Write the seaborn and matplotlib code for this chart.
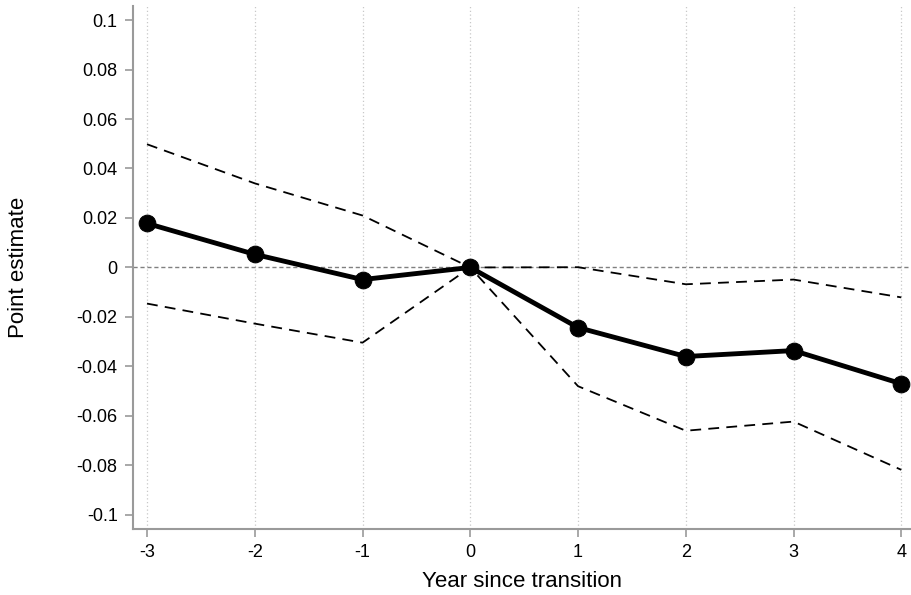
import numpy as np
import pandas as pd
import matplotlib
matplotlib.use("Agg")
import matplotlib.pyplot as plt
import seaborn as sns

# ── Data ──────────────────────────────────────────────────────────────────────
years = [-3, -2, -1, 0, 1, 2, 3, 4]
point = [0.0178, 0.0053, -0.0049, 0.0, -0.0243, -0.0360, -0.0336, -0.0470]
ci_hi = [0.0498, 0.0340, 0.0210, 0.0, 0.0001, -0.0068, -0.0049, -0.0121]
ci_lo = [-0.0146, -0.0227, -0.0304, 0.0, -0.0480, -0.0660, -0.0623, -0.0818]
yticks = [-0.1, -0.08, -0.06, -0.04, -0.02, 0, 0.02, 0.04, 0.06, 0.08, 0.1]
ytick_labels = ["-0.1", "-0.08", "-0.06", "-0.04", "-0.02", "0",
                "0.02", "0.04", "0.06", "0.08", "0.1"]

df = pd.DataFrame({"year": years, "point": point, "hi": ci_hi, "lo": ci_lo})

sns.set_style("white")
plt.rcParams["font.family"] = ["Liberation Sans", "DejaVu Sans"]
plt.rcParams["text.color"] = "black"
plt.rcParams["axes.labelcolor"] = "black"
plt.rcParams["xtick.color"] = "black"
plt.rcParams["ytick.color"] = "black"

GREY = "#9a9a9a"

fig = plt.figure(figsize=(9.11, 5.95), dpi=100)
ax = fig.add_axes([0.146, 0.111, 0.854, 0.879])

# vertical dotted grid at each year
for x in years:
    ax.axvline(x, color="#c8c8c8", linestyle=(0, (1, 2)), linewidth=0.9, zorder=0)
ax.axhline(0, color="#808080", linestyle=(0, (3, 2)), linewidth=1.0, zorder=1)

sns.lineplot(data=df, x="year", y="hi", ax=ax, color="black", linewidth=1.3,
             linestyle=(0, (6, 4)), zorder=2)
sns.lineplot(data=df, x="year", y="lo", ax=ax, color="black", linewidth=1.3,
             linestyle=(0, (6, 4)), zorder=2)
sns.lineplot(data=df, x="year", y="point", ax=ax, color="black", linewidth=3.5,
             marker="o", markersize=12, markeredgecolor="black", zorder=3)

ax.set_xlim(-3.13, 4.09)
ax.set_ylim(-0.1057, 0.1057)
ax.set_xticks(years)
ax.set_xticklabels([str(y) for y in years])
ax.set_yticks(yticks)
ax.set_yticklabels(ytick_labels)

ax.set_xlabel("Year since transition", fontsize=16, labelpad=7)
ax.set_ylabel("Point estimate", fontsize=16, labelpad=34)

for side in ["top", "right"]:
    ax.spines[side].set_visible(False)
for side in ["left", "bottom"]:
    ax.spines[side].set_color(GREY)
    ax.spines[side].set_linewidth(1.5)

ax.tick_params(axis="both", which="major", length=6, width=1.2, color=GREY,
               labelcolor="black", labelsize=13, direction="out",
               left=True, bottom=True, pad=5)

fig.savefig("out.png", dpi=100)
plt.close(fig)
